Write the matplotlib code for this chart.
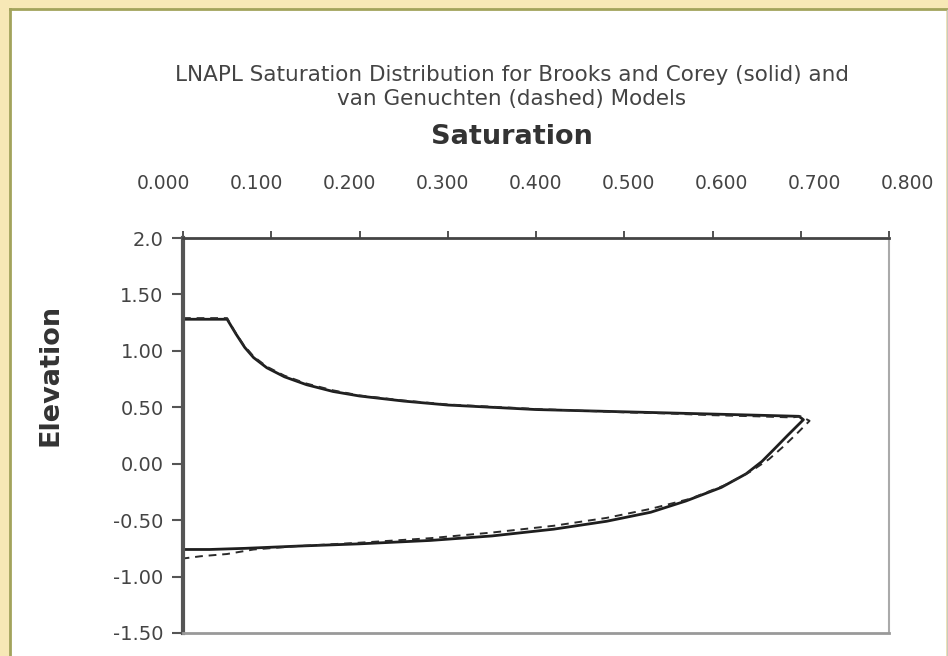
import matplotlib
matplotlib.use("Agg")
import matplotlib.pyplot as plt
from matplotlib.patches import Rectangle

# Brooks and Corey (solid) - saturation vs elevation
bc_sat = [0.000, 0.050, 0.060, 0.070, 0.080, 0.095, 0.115, 0.140, 0.170, 0.200,
          0.250, 0.300, 0.350, 0.400, 0.450, 0.500, 0.550, 0.600, 0.650, 0.698,
          0.703, 0.685, 0.670, 0.656, 0.638, 0.610, 0.570, 0.530, 0.480, 0.420,
          0.350, 0.280, 0.200, 0.130, 0.070, 0.030, 0.000]
bc_elev = [1.28, 1.28, 1.15, 1.03, 0.94, 0.85, 0.77, 0.70, 0.64, 0.60,
           0.555, 0.52, 0.50, 0.48, 0.47, 0.46, 0.45, 0.44, 0.43, 0.42,
           0.39, 0.25, 0.13, 0.02, -0.09, -0.21, -0.33, -0.43, -0.51, -0.58,
           -0.64, -0.68, -0.71, -0.73, -0.75, -0.76, -0.76]

# van Genuchten (dashed)
vg_sat = [0.000, 0.050, 0.058, 0.068, 0.080, 0.095, 0.115, 0.140, 0.170, 0.200,
          0.250, 0.300, 0.350, 0.400, 0.450, 0.500, 0.550, 0.600, 0.650, 0.690,
          0.700, 0.710, 0.696, 0.680, 0.664, 0.643, 0.614, 0.575, 0.530, 0.480,
          0.420, 0.350, 0.280, 0.200, 0.130, 0.080, 0.050, 0.020, 0.000]
vg_elev = [1.29, 1.29, 1.18, 1.06, 0.95, 0.86, 0.78, 0.71, 0.65, 0.605,
           0.56, 0.525, 0.505, 0.485, 0.47, 0.455, 0.445, 0.43, 0.42, 0.41,
           0.42, 0.38, 0.27, 0.15, 0.04, -0.07, -0.19, -0.31, -0.40, -0.48,
           -0.55, -0.61, -0.66, -0.70, -0.73, -0.76, -0.80, -0.82, -0.84]

x_ticks = [0.0, 0.1, 0.2, 0.3, 0.4, 0.5, 0.6, 0.7, 0.8]
x_labels = ["0.000", "0.100", "0.200", "0.300", "0.400", "0.500", "0.600", "0.700", "0.800"]
y_ticks = [2.0, 1.5, 1.0, 0.5, 0.0, -0.5, -1.0, -1.5]
y_labels = ["2.0", "1.50", "1.00", "0.50", "0.00", "-0.50", "-1.00", "-1.50"]

W, H = 948, 656
fig = plt.figure(figsize=(W / 100, H / 100), dpi=100)
fig.patch.set_facecolor("#f7e8b6")

# white panel with olive edge on top/left
fig.patches.append(Rectangle((10 / W, 0), 936 / W, 1 - 9 / H, transform=fig.transFigure,
                             facecolor="white", edgecolor="none", zorder=-5))
fig.add_artist(plt.Line2D([10 / W, 10 / W], [0, 1 - 9 / H], color="#a2a35c", lw=2,
                          transform=fig.transFigure, zorder=-4))
fig.add_artist(plt.Line2D([10 / W, 1], [1 - 9 / H, 1 - 9 / H], color="#a2a35c", lw=2,
                          transform=fig.transFigure, zorder=-4))
fig.add_artist(plt.Line2D([946.5 / W, 946.5 / W], [0, 1 - 10 / H], color="#c8c8c0", lw=1,
                          transform=fig.transFigure, zorder=-4))

ax = fig.add_axes([183 / W, 1 - 633 / H, 706 / W, 395 / H])
ax.set_facecolor("white")

ax.plot(bc_sat, bc_elev, color="#1e1e1e", lw=2.0, solid_joinstyle="round")
ax.plot(vg_sat, vg_elev, color="#2a2a2a", lw=1.4, ls=(0, (4, 3)))

ax.set_xlim(0, 0.8)
ax.set_ylim(-1.5, 2.0)

ax.xaxis.tick_top()
ax.set_xticks(x_ticks)
ax.set_xticklabels([])
ax.tick_params(axis="x", direction="out", length=5, width=1.2, color="#333333")
ax.set_yticks(y_ticks)
ax.set_yticklabels(y_labels, fontsize=14, color="#444444")
ax.tick_params(axis="y", direction="out", length=8, width=1.5, color="#555555", pad=6)

ax.spines["left"].set_color("#555555")
ax.spines["left"].set_linewidth(3)
ax.spines["top"].set_color("#444444")
ax.spines["top"].set_linewidth(2)
ax.spines["bottom"].set_color("#999999")
ax.spines["bottom"].set_linewidth(2)
ax.spines["right"].set_color("#aaaaaa")
ax.spines["right"].set_linewidth(1.5)

# saturation labels sit on a slightly wider scale than the ticks
lab = fig.add_axes([163 / W, 1 - 193 / H, 744 / W, 0.0001])
lab.set_xlim(0, 0.8)
lab.set_xticks(x_ticks)
lab.set_xticklabels(x_labels, fontsize=13.5, color="#444444")
lab.xaxis.tick_top()
lab.tick_params(axis="x", length=0, pad=0)
lab.set_yticks([])
for s in lab.spines.values():
    s.set_visible(False)
lab.patch.set_alpha(0)

fig.text(512 / W, 1 - 87 / H,
         "LNAPL Saturation Distribution for Brooks and Corey (solid) and\nvan Genuchten (dashed) Models",
         ha="center", va="center", fontsize=15.5, color="#444444", linespacing=1.2)
fig.text(512 / W, 1 - 137 / H, "Saturation", ha="center", va="center",
         fontsize=19.5, fontweight="bold", color="#333333")
fig.text(50 / W, 1 - 375 / H, "Elevation", ha="center", va="center", rotation=90,
         fontsize=19.5, fontweight="bold", color="#333333")

fig.savefig("out.png", dpi=100, facecolor=fig.get_facecolor())
